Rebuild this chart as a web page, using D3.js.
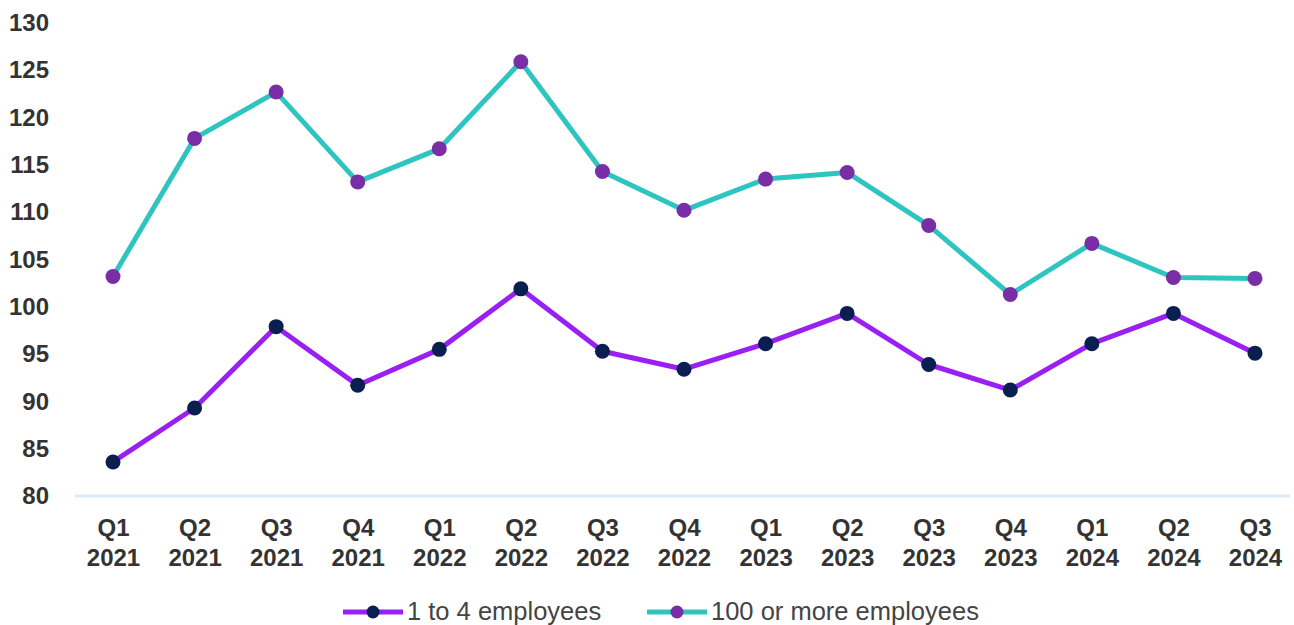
<!DOCTYPE html>
<html>
<head>
<meta charset="utf-8">
<script src="https://cdn.jsdelivr.net/npm/d3@7"></script>
<style>
  html, body { margin: 0; padding: 0; background: #fff; }
  svg { display: block; font-family: "Liberation Sans", Arial, sans-serif; }
</style>
</head>
<body>
<svg id="chart" width="1294" height="625"></svg>
<script>
// Quarterly index values by business size
const quarters = ["Q1 2021","Q2 2021","Q3 2021","Q4 2021","Q1 2022","Q2 2022","Q3 2022","Q4 2022",
                  "Q1 2023","Q2 2023","Q3 2023","Q4 2023","Q1 2024","Q2 2024","Q3 2024"];
const small = [83.6, 89.3, 97.9, 91.7, 95.5, 101.9, 95.3, 93.4, 96.1, 99.3, 93.9, 91.2, 96.1, 99.3, 95.1];
const large = [103.2, 117.8, 122.7, 113.2, 116.7, 125.9, 114.3, 110.2, 113.5, 114.2, 108.6, 101.3, 106.7, 103.1, 103.0];
const yTicks = [80, 85, 90, 95, 100, 105, 110, 115, 120, 125, 130];
const seriesNames = ["1 to 4 employees", "100 or more employees"];

const series = [
  { name: seriesNames[0], values: small, line: "#9a1ff2", dot: "#0b1e50" },
  { name: seriesNames[1], values: large, line: "#2ec5c0", dot: "#7a2ea6" }
];

const svg = d3.select("#chart");

const x = d3.scalePoint().domain(quarters).range([113, 1255]);
const y = d3.scaleLinear().domain([80, 130]).range([496, 23]);

// Baseline
svg.append("line")
  .attr("x1", 75).attr("x2", 1290)
  .attr("y1", y(80)).attr("y2", y(80))
  .attr("stroke", "#d9ecfb").attr("stroke-width", 3);

// Y axis labels
const yAxis = d3.axisLeft(y).tickValues(yTicks).tickSize(0).tickPadding(0);
const yg = svg.append("g").attr("transform", "translate(49,0)").call(yAxis);
yg.select(".domain").remove();
yg.selectAll("text")
  .attr("fill", "#333").attr("font-size", 24).attr("font-weight", "bold")
  .attr("font-family", "Liberation Sans, Arial, sans-serif");

// X axis labels on two lines
const xAxis = d3.axisBottom(x).tickSize(0).tickFormat("");
const xg = svg.append("g").attr("transform", "translate(0,505)").call(xAxis);
xg.select(".domain").remove();
xg.selectAll(".tick").each(function(d) {
  const parts = d.split(" ");
  const t = d3.select(this).append("text")
    .attr("text-anchor", "middle")
    .attr("fill", "#333").attr("font-size", 24).attr("font-weight", "bold")
    .attr("font-family", "Liberation Sans, Arial, sans-serif");
  t.append("tspan").attr("x", 0).attr("y", 31).text(parts[0]);
  t.append("tspan").attr("x", 0).attr("y", 61).text(parts[1]);
});

const line = d3.line().x((d, i) => x(quarters[i])).y(d => y(d));

series.forEach(s => {
  svg.append("path")
    .datum(s.values)
    .attr("d", line)
    .attr("fill", "none")
    .attr("stroke", s.line)
    .attr("stroke-width", 5)
    .attr("stroke-linejoin", "round");
  svg.append("g").selectAll("circle")
    .data(s.values)
    .join("circle")
    .attr("cx", (d, i) => x(quarters[i]))
    .attr("cy", d => y(d))
    .attr("r", 7.5)
    .attr("fill", s.dot);
});

// Legend
const legendItems = [
  { s: series[0], x0: 343 },
  { s: series[1], x0: 647 }
];
legendItems.forEach(item => {
  const g = svg.append("g").attr("transform", `translate(${item.x0},612)`);
  g.append("line").attr("x1", 0).attr("x2", 60).attr("y1", 0).attr("y2", 0)
    .attr("stroke", item.s.line).attr("stroke-width", 5);
  g.append("circle").attr("cx", 30).attr("cy", 0).attr("r", 6.5).attr("fill", item.s.dot);
  g.append("text").attr("x", 64).attr("y", 8)
    .attr("fill", "#444").attr("font-size", 25.5)
    .text(item.s.name);
});
</script>
</body>
</html>
